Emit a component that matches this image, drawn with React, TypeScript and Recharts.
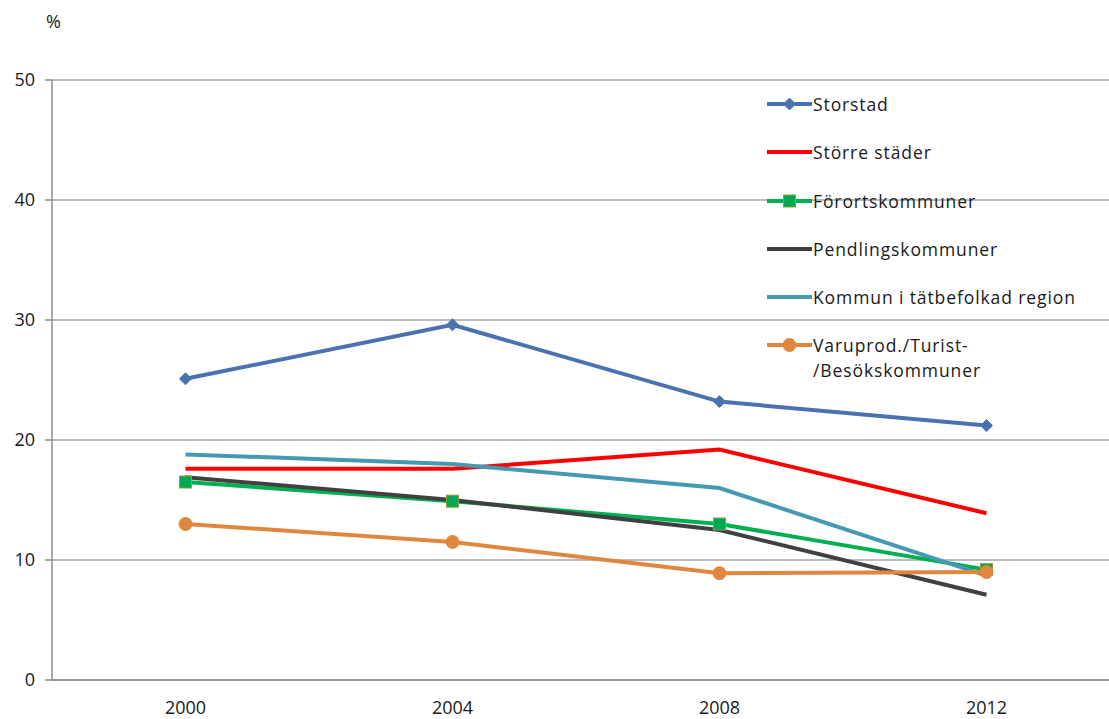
import React from "react";
import { LineChart, Line, XAxis, YAxis, CartesianGrid, Legend } from "recharts";

const years = ["2000", "2004", "2008", "2012"];
const storstad = [25.1, 29.6, 23.2, 21.2];
const storreStader = [17.6, 17.6, 19.2, 13.9];
const forort = [16.5, 14.9, 13.0, 9.2];
const pendling = [16.9, 15.0, 12.5, 7.1];
const kommunTat = [18.8, 18.0, 16.0, 8.7];
const varuprod = [13.0, 11.5, 8.9, 9.0];

const yTicks = [0, 10, 20, 30, 40, 50];
const bandEdges = [0, 1, 2, 3, 4];

type Marker = "diamond" | "square" | "circle" | "none";

const SERIES: { key: string; name: string; color: string; marker: Marker; values: number[] }[] = [
  { key: "storstad", name: "Storstad", color: "#4a72b0", marker: "diamond", values: storstad },
  { key: "storre", name: "Större städer", color: "#ff0000", marker: "none", values: storreStader },
  { key: "forort", name: "Förortskommuner", color: "#00b050", marker: "square", values: forort },
  { key: "pendling", name: "Pendlingskommuner", color: "#404040", marker: "none", values: pendling },
  { key: "kommun", name: "Kommun i tätbefolkad region", color: "#4599b3", marker: "none", values: kommunTat },
  { key: "varuprod", name: "Varuprod./Turist-\n/Besökskommuner", color: "#e0873e", marker: "circle", values: varuprod },
];

const chartData = years.map((year, i) => {
  const row: Record<string, string | number> = { year };
  SERIES.forEach((s) => {
    row[s.key] = s.values[i];
  });
  return row;
});

const FONT = "'Open Sans', sans-serif";

function markerShape(marker: Marker, color: string, cx: number, cy: number, key?: string) {
  if (marker === "diamond") {
    const r = 6;
    return (
      <polygon
        key={key}
        points={`${cx},${cy - r} ${cx + r},${cy} ${cx},${cy + r} ${cx - r},${cy}`}
        fill={color}
        stroke={color}
      />
    );
  }
  if (marker === "square") {
    return <rect key={key} x={cx - 6} y={cy - 6} width={12} height={12} fill="#00a84f" stroke="#8c9f45" strokeWidth={1} />;
  }
  if (marker === "circle") {
    return <circle key={key} cx={cx} cy={cy} r={6.5} fill={color} stroke={color} />;
  }
  return <g key={key} />;
}

function LegendBox() {
  return (
    <div style={{ fontFamily: FONT, fontSize: 17.5, color: "#1a1a1a", letterSpacing: 0.9 }}>
      {SERIES.map((s) => {
        const lines = s.name.split("\n");
        return (
          <div key={s.key} style={{ display: "flex", alignItems: "flex-start", height: 48.3 }}>
            <svg width={48} height={24} style={{ flexShrink: 0 }}>
              <line x1={2} y1={12} x2={47} y2={12} stroke={s.color} strokeWidth={4} />
              {markerShape(s.marker, s.color, 24.5, 12)}
            </svg>
            <div style={{ lineHeight: "25px" }}>
              {lines.map((l, i) => (
                <div key={i}>{l}</div>
              ))}
            </div>
          </div>
        );
      })}
    </div>
  );
}

export default function App() {
  return (
    <div style={{ position: "absolute", left: 0, top: 0, width: 1109, height: 719, overflow: "hidden", background: "#fff" }}>
      <div style={{ position: "absolute", left: 46, top: 9, fontFamily: FONT, fontSize: 18, color: "#1a1a1a" }}>%</div>
      <LineChart width={1125} height={719} data={chartData} margin={{ top: 80, right: 5, left: 0, bottom: 0 }}>
        <CartesianGrid horizontal vertical={false} stroke="#a6a6a6" strokeWidth={1.5} />
        <XAxis
          xAxisId="a"
          type="number"
          domain={[0, 4]}
          ticks={bandEdges}
          allowDataOverflow
          height={1}
          tick={false}
          tickSize={7}
          stroke="#8c8c8c"
          strokeWidth={1.5}
        />
        <XAxis
          xAxisId="b"
          dataKey="year"
          scale="band"
          height={38}
          axisLine={false}
          tickLine={false}
          tickMargin={14}
          tick={{ fill: "#1a1a1a", fontSize: 18, fontFamily: FONT }}
        />
        <YAxis
          width={52}
          domain={[0, 50]}
          ticks={yTicks}
          tickSize={7}
          tickMargin={10}
          stroke="#8c8c8c"
          strokeWidth={1.5}
          tick={{ fill: "#1a1a1a", fontSize: 18, fontFamily: FONT }}
        />
        <Legend
          layout="vertical"
          align="center"
          verticalAlign="middle"
          wrapperStyle={{ top: 92, left: 765, width: 340 }}
          content={() => <LegendBox />}
        />
        {SERIES.map((s) => (
          <Line
            key={s.key}
            xAxisId="b"
            dataKey={s.key}
            name={s.name}
            stroke={s.color}
            strokeWidth={4}
            isAnimationActive={false}
            activeDot={false}
            dot={
              s.marker === "none"
                ? false
                : (p: any) => markerShape(s.marker, s.color, p.cx, p.cy, `${s.key}-${p.index}`)
            }
          />
        ))}
      </LineChart>
    </div>
  );
}
